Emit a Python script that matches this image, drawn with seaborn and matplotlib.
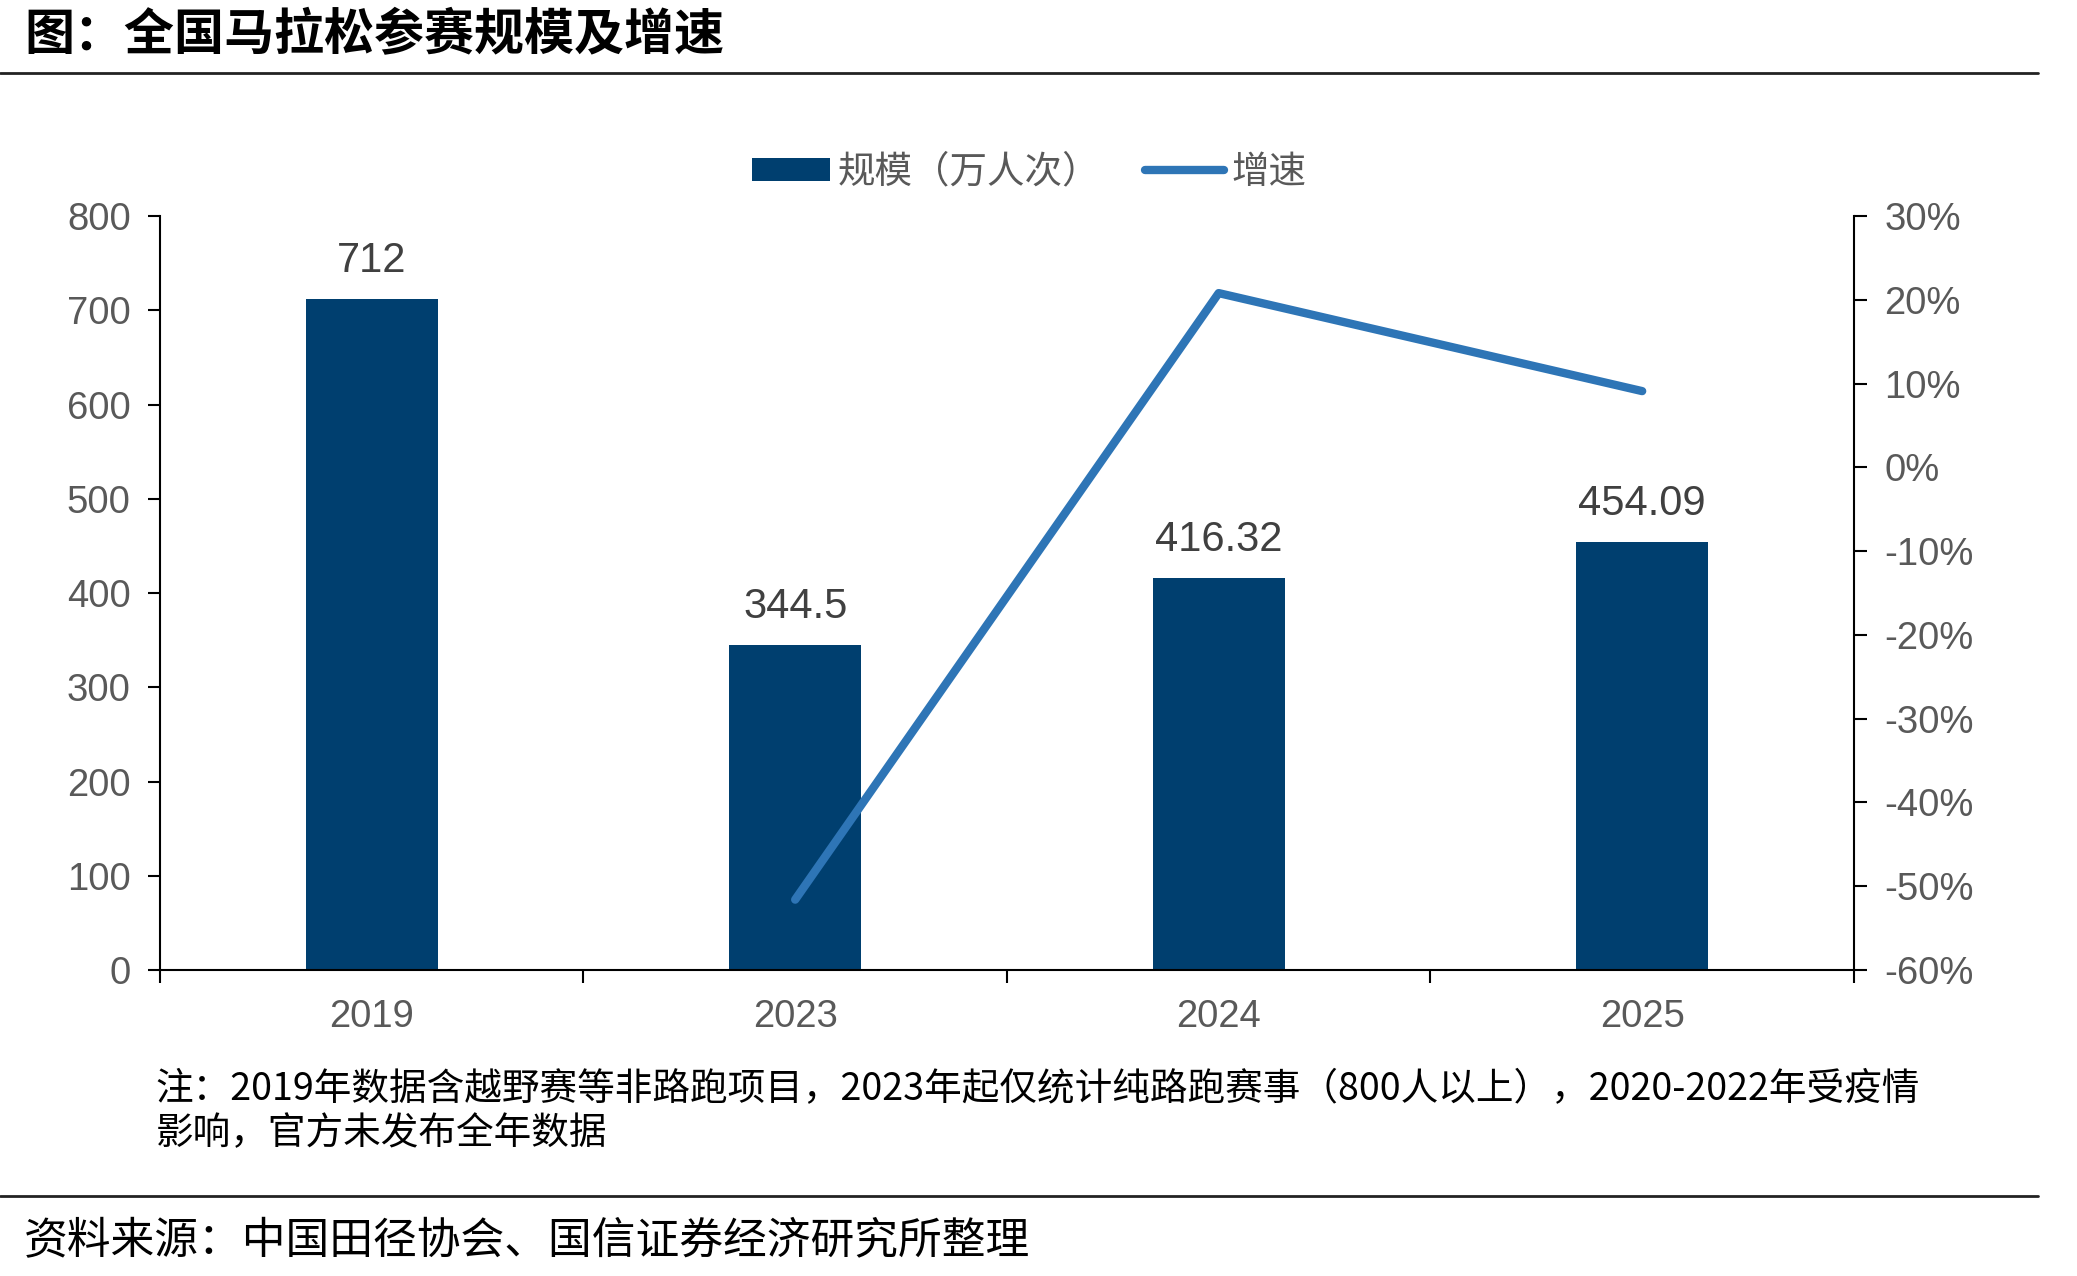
import matplotlib
matplotlib.use("Agg")
import matplotlib.pyplot as plt
import seaborn as sns
import pandas as pd
from matplotlib.patches import Patch
from matplotlib.lines import Line2D
from matplotlib.ticker import FuncFormatter, FixedLocator

# ---- data ----
years = ["2019", "2023", "2024", "2025"]
scale = [712, 344.5, 416.32, 454.09]
scale_labels = ["712", "344.5", "416.32", "454.09"]
growth_years = ["2023", "2024", "2025"]
growth = [-51.6, 20.8, 9.1]

title = "图：全国马拉松参赛规模及增速"
legend_labels = ["规模（万人次）", "增速"]
note = ["注：2019年数据含越野赛等非路跑项目，2023年起仅统计纯路跑赛事（800人以上），2020-2022年受疫情",
        "影响，官方未发布全年数据"]
source = "资料来源：中国田径协会、国信证券经济研究所整理"

BAR = "#003F6F"
LINE = "#2E75B6"
TICK = "#595959"
LAB = "#404040"

sns.set_theme(style="white")
plt.rcParams['font.family'] = ['Liberation Sans', 'Noto Sans CJK SC', 'DejaVu Sans']
CJK = ['Noto Sans CJK SC', 'Liberation Sans', 'DejaVu Sans']

fig = plt.figure(figsize=(20.77, 12.76), dpi=100)
ax = fig.add_axes([0.0770, 0.2398, 0.8156, 0.5909])

df = pd.DataFrame({"year": years, "scale": scale})
sns.barplot(data=df, x="year", y="scale", order=years, color=BAR, width=0.312,
            saturation=1, ax=ax, edgecolor="none")
ax.set_xlim(-0.5, len(years) - 0.5)
ax.set_ylim(0, 800)
ax.set_yticks(range(0, 801, 100))
ax.set_xlabel("")
ax.set_ylabel("")

for i, (v, s) in enumerate(zip(scale, scale_labels)):
    ax.annotate(s, (i, v), xytext=(0, 13), textcoords="offset points",
                ha="center", va="bottom", fontsize=30, color=LAB)

ax2 = ax.twinx()
gdf = pd.DataFrame({"pos": [years.index(y) for y in growth_years], "g": growth})
sns.lineplot(data=gdf, x="pos", y="g", ax=ax2, color=LINE, linewidth=6,
             solid_capstyle="round", solid_joinstyle="round")
ax2.set_ylim(-60, 30)
ax2.set_yticks(range(-60, 31, 10))
ax2.yaxis.set_major_formatter(FuncFormatter(lambda v, p: f"{int(v)}%"))
ax2.set_ylabel("")
ax2.set_xlabel("")
ax2.set_xlim(-0.5, len(years) - 0.5)

# spines
for a in (ax, ax2):
    a.spines["top"].set_visible(False)
    for s in a.spines.values():
        s.set_color("#000000")
        s.set_linewidth(1.5)
ax.spines["right"].set_visible(False)
ax2.spines["left"].set_visible(False)
ax2.spines["bottom"].set_visible(False)

# ticks
ax.set_xticks(range(len(years)))
ax.set_xticklabels(years)
ax.xaxis.set_minor_locator(FixedLocator([i - 0.5 for i in range(len(years) + 1)]))
ax.tick_params(axis="x", which="major", length=0, labelsize=27.5, labelcolor=TICK, pad=21)
ax.tick_params(axis="x", which="minor", bottom=True, length=9, width=1.5, color="#000000", direction="out")
ax.tick_params(axis="y", left=True, length=9, width=1.5, color="#000000", direction="out",
               labelsize=27.5, labelcolor=TICK, pad=12)
ax2.tick_params(axis="y", right=True, length=9, width=1.5, color="#000000", direction="out",
                labelsize=27.5, labelcolor=TICK, pad=13)

# legend
handles = [Patch(facecolor=BAR, edgecolor="none"),
           Line2D([0], [0], color=LINE, linewidth=6, solid_capstyle="round")]
fig.legend(handles, legend_labels, loc="center", bbox_to_anchor=(0.4955, 0.865), ncol=2,
           frameon=False, prop={"family": CJK, "size": 27}, labelcolor=TICK,
           handlelength=2.1, handleheight=0.55, handletextpad=0.2, columnspacing=1.2)

# title and lines
fig.text(0.0116, 0.972, title, ha="left", va="center", fontsize=36, fontweight="bold",
         family=CJK, color="#000000")
fig.add_artist(Line2D([0, 0.981], [0.9428, 0.9428], transform=fig.transFigure,
                      color="#222222", linewidth=2))
fig.add_artist(Line2D([0, 0.981], [0.0627, 0.0627], transform=fig.transFigure,
                      color="#222222", linewidth=2))

fig.text(0.075, 0.146, note[0], ha="left", va="center", fontsize=27.1, style="italic",
         family=CJK, color="#000000")
fig.text(0.075, 0.1114, note[1], ha="left", va="center", fontsize=27.1, style="italic",
         family=CJK, color="#000000")
fig.text(0.0116, 0.0274, source, ha="left", va="center", fontsize=31.5,
         family=CJK, color="#000000")

fig.savefig("out.png", dpi=100)
